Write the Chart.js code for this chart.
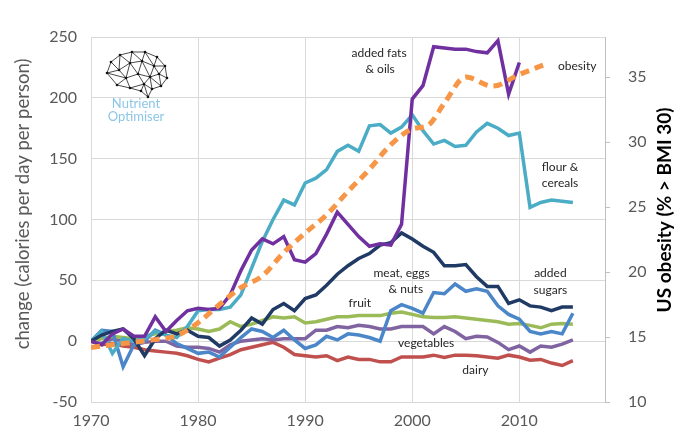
<!DOCTYPE html>
<html lang="en">
<head>
<meta charset="UTF-8">
<title>Calories by food group vs US obesity</title>
<style>
  body { margin: 0; background: #fff; }
  #wrap { width: 680px; height: 438px; }
</style>
</head>
<body>
<div id="wrap"><canvas id="chart" width="680" height="438"></canvas></div>
<script src="https://cdn.jsdelivr.net/npm/chart.js"></script>
<script>
// years 1970-2015
const years = [1970, 1971, 1972, 1973, 1974, 1975, 1976, 1977, 1978, 1979,
               1980, 1981, 1982, 1983, 1984, 1985, 1986, 1987, 1988, 1989,
               1990, 1991, 1992, 1993, 1994, 1995, 1996, 1997, 1998, 1999,
               2000, 2001, 2002, 2003, 2004, 2005, 2006, 2007, 2008, 2009,
               2010, 2011, 2012, 2013, 2014, 2015];

// change in calories per day per person (fats series stops at 2010)
const fatsOils = [0, -3, 6, 10, 4, 4, 20, 8, 17, 25,
                  27, 26, 27, 38, 58, 75, 84, 80, 86, 67,
                  65, 72, 88, 106, 96, 86, 78, 80, 79, 96,
                  199, 210, 242, 241, 240, 240, 238, 237, 247, 203,
                  229];
const flourCereals = [0, 8, -10, 2, 0, 2, 8, 5, 3, 12,
                      25, 26, 26, 28, 38, 60, 82, 100, 116, 112,
                      130, 134, 141, 156, 161, 156, 177, 178, 171, 176,
                      186, 173, 162, 165, 160, 161, 172, 179, 175, 169,
                      171, 110, 114, 116, 115, 114];
const addedSugars = [0, 5, 8, 10, 2, -12, 2, 9, 6, 9,
                     4, 3, -4, 1, 9, 19, 14, 26, 31, 25,
                     35, 38, 46, 55, 62, 68, 72, 79, 81, 89,
                     84, 78, 73, 62, 62, 63, 53, 45, 45, 31,
                     34, 29, 28, 25, 28, 28];
const meatEggsNuts = [0, 9, 8, -21, -3, 0, 9, 5, -2, -6,
                      -10, -9, -13, -5, 3, 10, 8, 3, 9, 1,
                      -6, -3, 4, 1, 6, 5, 3, 0, 25, 30,
                      27, 23, 40, 39, 47, 41, 43, 41, 29, 22,
                      18, 8, 6, 8, 6, 23];
const fruit = [0, 2, 4, 3, 2, 4, 6, 8, 9, 11,
               10, 8, 10, 16, 12, 14, 17, 20, 19, 20,
               15, 16, 18, 20, 20, 21, 21, 21, 23, 24,
               22, 20, 19.5, 19.5, 20, 19, 18, 17, 16, 14,
               14.5, 13, 11, 14, 14.5, 14];
const vegetables = [0, -2, 2, 0, -3, -1, 0, 0, -4, -5,
                    -5, -6, -9, -3, 0, 1, 2, 1, 2, 2,
                    2, 9, 9, 12, 11, 13, 12, 10, 10, 12,
                    12, 12, 6, 12, 8, 2, 4, 3.5, -1, -7,
                    -4, -9, -4, -5, -2.5, 1];
const dairy = [0, -3, -2, -4, -5, -7, -8, -9, -10, -12,
               -15, -17, -14, -11, -7, -5, -3, -1, -5, -11,
               -12, -13, -12, -16, -13, -15, -15, -17, -17, -13,
               -13, -13, -11.5, -13.4, -11.5, -11.5, -12, -13, -14, -11.5,
               -13, -15.6, -15, -18, -20, -16];

// US obesity (% > BMI 30), right axis
const obesityYears = [1970, 1972, 1974, 1976, 1978, 1980, 1982, 1984, 1986, 1988,
                      1990, 1992, 1994, 1996, 1998, 2000, 2001.5, 2003, 2005, 2007.5,
                      2010, 2012.5];
const obesityPct = [14.2, 14.4, 14.6, 14.8, 15.1, 16.1, 17.5, 18.8, 19.7, 21.5,
                    23.0, 24.4, 26.2, 27.9, 29.8, 31.0, 31.3, 33.0, 35.0, 34.3,
                    35.2, 36.0];

// text labels: [text, year, calories]
const seriesLabels = [
  ['added fats', 1996.9, 237], ['& oils', 1997.0, 224],
  ['obesity', 2015.4, 226],
  ['flour &', 2013.8, 143], ['cereals', 2013.8, 130],
  ['meat, eggs', 1999.0, 56], ['& nuts', 1999.4, 43],
  ['added', 2012.9, 56], ['sugars', 2012.9, 42],
  ['fruit', 1995.1, 31],
  ['vegetables', 2001.3, -1.5],
  ['dairy', 2005.9, -24]
];

const xTicks = [1970, 1980, 1990, 2000, 2010];

function pts(xs, ys) {
  return ys.map((v, i) => ({ x: xs[i], y: v }));
}

function line(label, values, color, extra) {
  return Object.assign({
    label: label,
    data: pts(years, values),
    borderColor: color,
    borderWidth: 3.5,
    pointRadius: 0,
    fill: false,
    tension: 0,
    yAxisID: 'y'
  }, extra || {});
}

Chart.defaults.font.family = 'Lato, "Open Sans", sans-serif';
Chart.defaults.color = '#595959';

// axis titles, series labels and logo
const decorations = {
  id: 'decorations',
  afterDatasetsDraw(chart) {
    const ctx = chart.ctx;
    const xs = chart.scales.x, ys = chart.scales.y;
    ctx.save();
    ctx.fillStyle = '#262626';
    ctx.font = '12px Lato, sans-serif';
    ctx.textAlign = 'center';
    ctx.textBaseline = 'middle';
    seriesLabels.forEach(l => {
      ctx.fillText(l[0], xs.getPixelForValue(l[1]), ys.getPixelForValue(l[2]));
    });
    ctx.restore();
  },
  afterDraw(chart) {
    const ctx = chart.ctx;
    const area = chart.chartArea;
    ctx.save();
    // left title
    ctx.translate(23, 204);
    ctx.rotate(-Math.PI / 2);
    ctx.fillStyle = '#595959';
    ctx.font = '18.5px Lato, sans-serif';
    ctx.textAlign = 'center';
    ctx.textBaseline = 'middle';
    ctx.fillText('change (calories per day per person)', 0, 0);
    ctx.restore();

    // right title
    ctx.save();
    ctx.translate(665, 210);
    ctx.rotate(-Math.PI / 2);
    ctx.fillStyle = '#000';
    ctx.font = 'bold 19px Lato, sans-serif';
    ctx.textAlign = 'center';
    ctx.textBaseline = 'middle';
    ctx.fillText('US obesity (% > BMI 30)', 0, 0);
    ctx.restore();

    // brain logo
    const bx = area.left + 13, by = area.top + 14;
    const nodes = [[3,22],[7,11],[16,4],[28,1],[41,1],[53,6],[61,15],[63,27],[57,35],[48,38],
                   [44,46],[37,40],[26,37],[13,34],[15,19],[26,12],[38,10],[50,15],[22,27],[34,23],
                   [46,26],[55,23],[40,33]];
    const edges = [[0,1],[1,2],[2,3],[3,4],[4,5],[5,6],[6,7],[7,8],[8,9],[9,10],[10,11],[11,12],[12,13],[13,0],
                   [1,14],[2,14],[2,15],[3,15],[3,16],[4,16],[4,17],[5,17],[6,17],[6,21],[7,21],[8,21],[8,20],
                   [9,20],[9,22],[11,22],[12,22],[12,18],[13,18],[0,14],[0,18],[14,15],[15,16],[16,17],[17,21],
                   [14,18],[15,18],[15,19],[16,19],[18,19],[19,20],[16,20],[17,20],[20,21],[19,22],[20,22],[10,22]];
    ctx.save();
    ctx.strokeStyle = '#1a1a1a';
    ctx.lineWidth = 0.8;
    edges.forEach(e => {
      ctx.beginPath();
      ctx.moveTo(bx + nodes[e[0]][0], by + nodes[e[0]][1]);
      ctx.lineTo(bx + nodes[e[1]][0], by + nodes[e[1]][1]);
      ctx.stroke();
    });
    ctx.fillStyle = '#111';
    nodes.forEach(n => {
      ctx.beginPath();
      ctx.arc(bx + n[0], by + n[1], 1.3, 0, Math.PI * 2);
      ctx.fill();
    });
    ctx.fillStyle = '#8cc6e6';
    ctx.font = '13px Lato, sans-serif';
    ctx.textAlign = 'center';
    ctx.textBaseline = 'middle';
    ctx.fillText('Nutrient', bx + 32, by + 53);
    ctx.fillText('Optimiser', bx + 32, by + 66);
    ctx.restore();
  }
};

new Chart(document.getElementById('chart'), {
  type: 'line',
  data: {
    datasets: [
      {
        label: 'obesity',
        data: pts(obesityYears, obesityPct),
        borderColor: '#f79646',
        borderWidth: 5,
        borderDash: [9, 6],
        pointRadius: 0,
        fill: false,
        cubicInterpolationMode: 'monotone',
        yAxisID: 'y2'
      },
      line('added fats & oils', fatsOils, '#7030a0'),
      line('added sugars', addedSugars, '#1f3a64'),
      line('flour & cereals', flourCereals, '#4bacc6'),
      line('meat, eggs & nuts', meatEggsNuts, '#4a86c8'),
      line('fruit', fruit, '#9bbb59'),
      line('vegetables', vegetables, '#8064a2'),
      line('dairy', dairy, '#c0504d')
    ]
  },
  options: {
    responsive: false,
    animation: false,
    layout: { padding: { top: 37, left: 0, right: 0, bottom: 0 } },
    plugins: { legend: { display: false }, tooltip: { enabled: false } },
    scales: {
      x: {
        type: 'linear',
        min: 1970,
        max: 2018,
        afterBuildTicks: s => { s.ticks = xTicks.map(v => ({ value: v })); },
        ticks: { font: { size: 16 }, padding: 9, callback: v => String(v) },
        grid: { color: '#d9d9d9', drawTicks: false },
        border: { display: false },
        afterFit: s => { s.height = 36; }
      },
      y: {
        position: 'left',
        min: -50,
        max: 250,
        ticks: { stepSize: 50, font: { size: 16 }, padding: 14 },
        grid: { color: '#d9d9d9', drawTicks: false },
        border: { display: false },
        afterFit: s => { s.width = 91; }
      },
      y2: {
        position: 'right',
        min: 10,
        max: 38.08,
        ticks: { stepSize: 5, includeBounds: false, font: { size: 16 }, padding: 18 },
        grid: { drawOnChartArea: false, color: '#bfbfbf', tickLength: 5 },
        border: { color: '#bfbfbf' },
        afterFit: s => { s.width = 75; }
      }
    }
  },
  plugins: [decorations]
});
</script>
</body>
</html>
